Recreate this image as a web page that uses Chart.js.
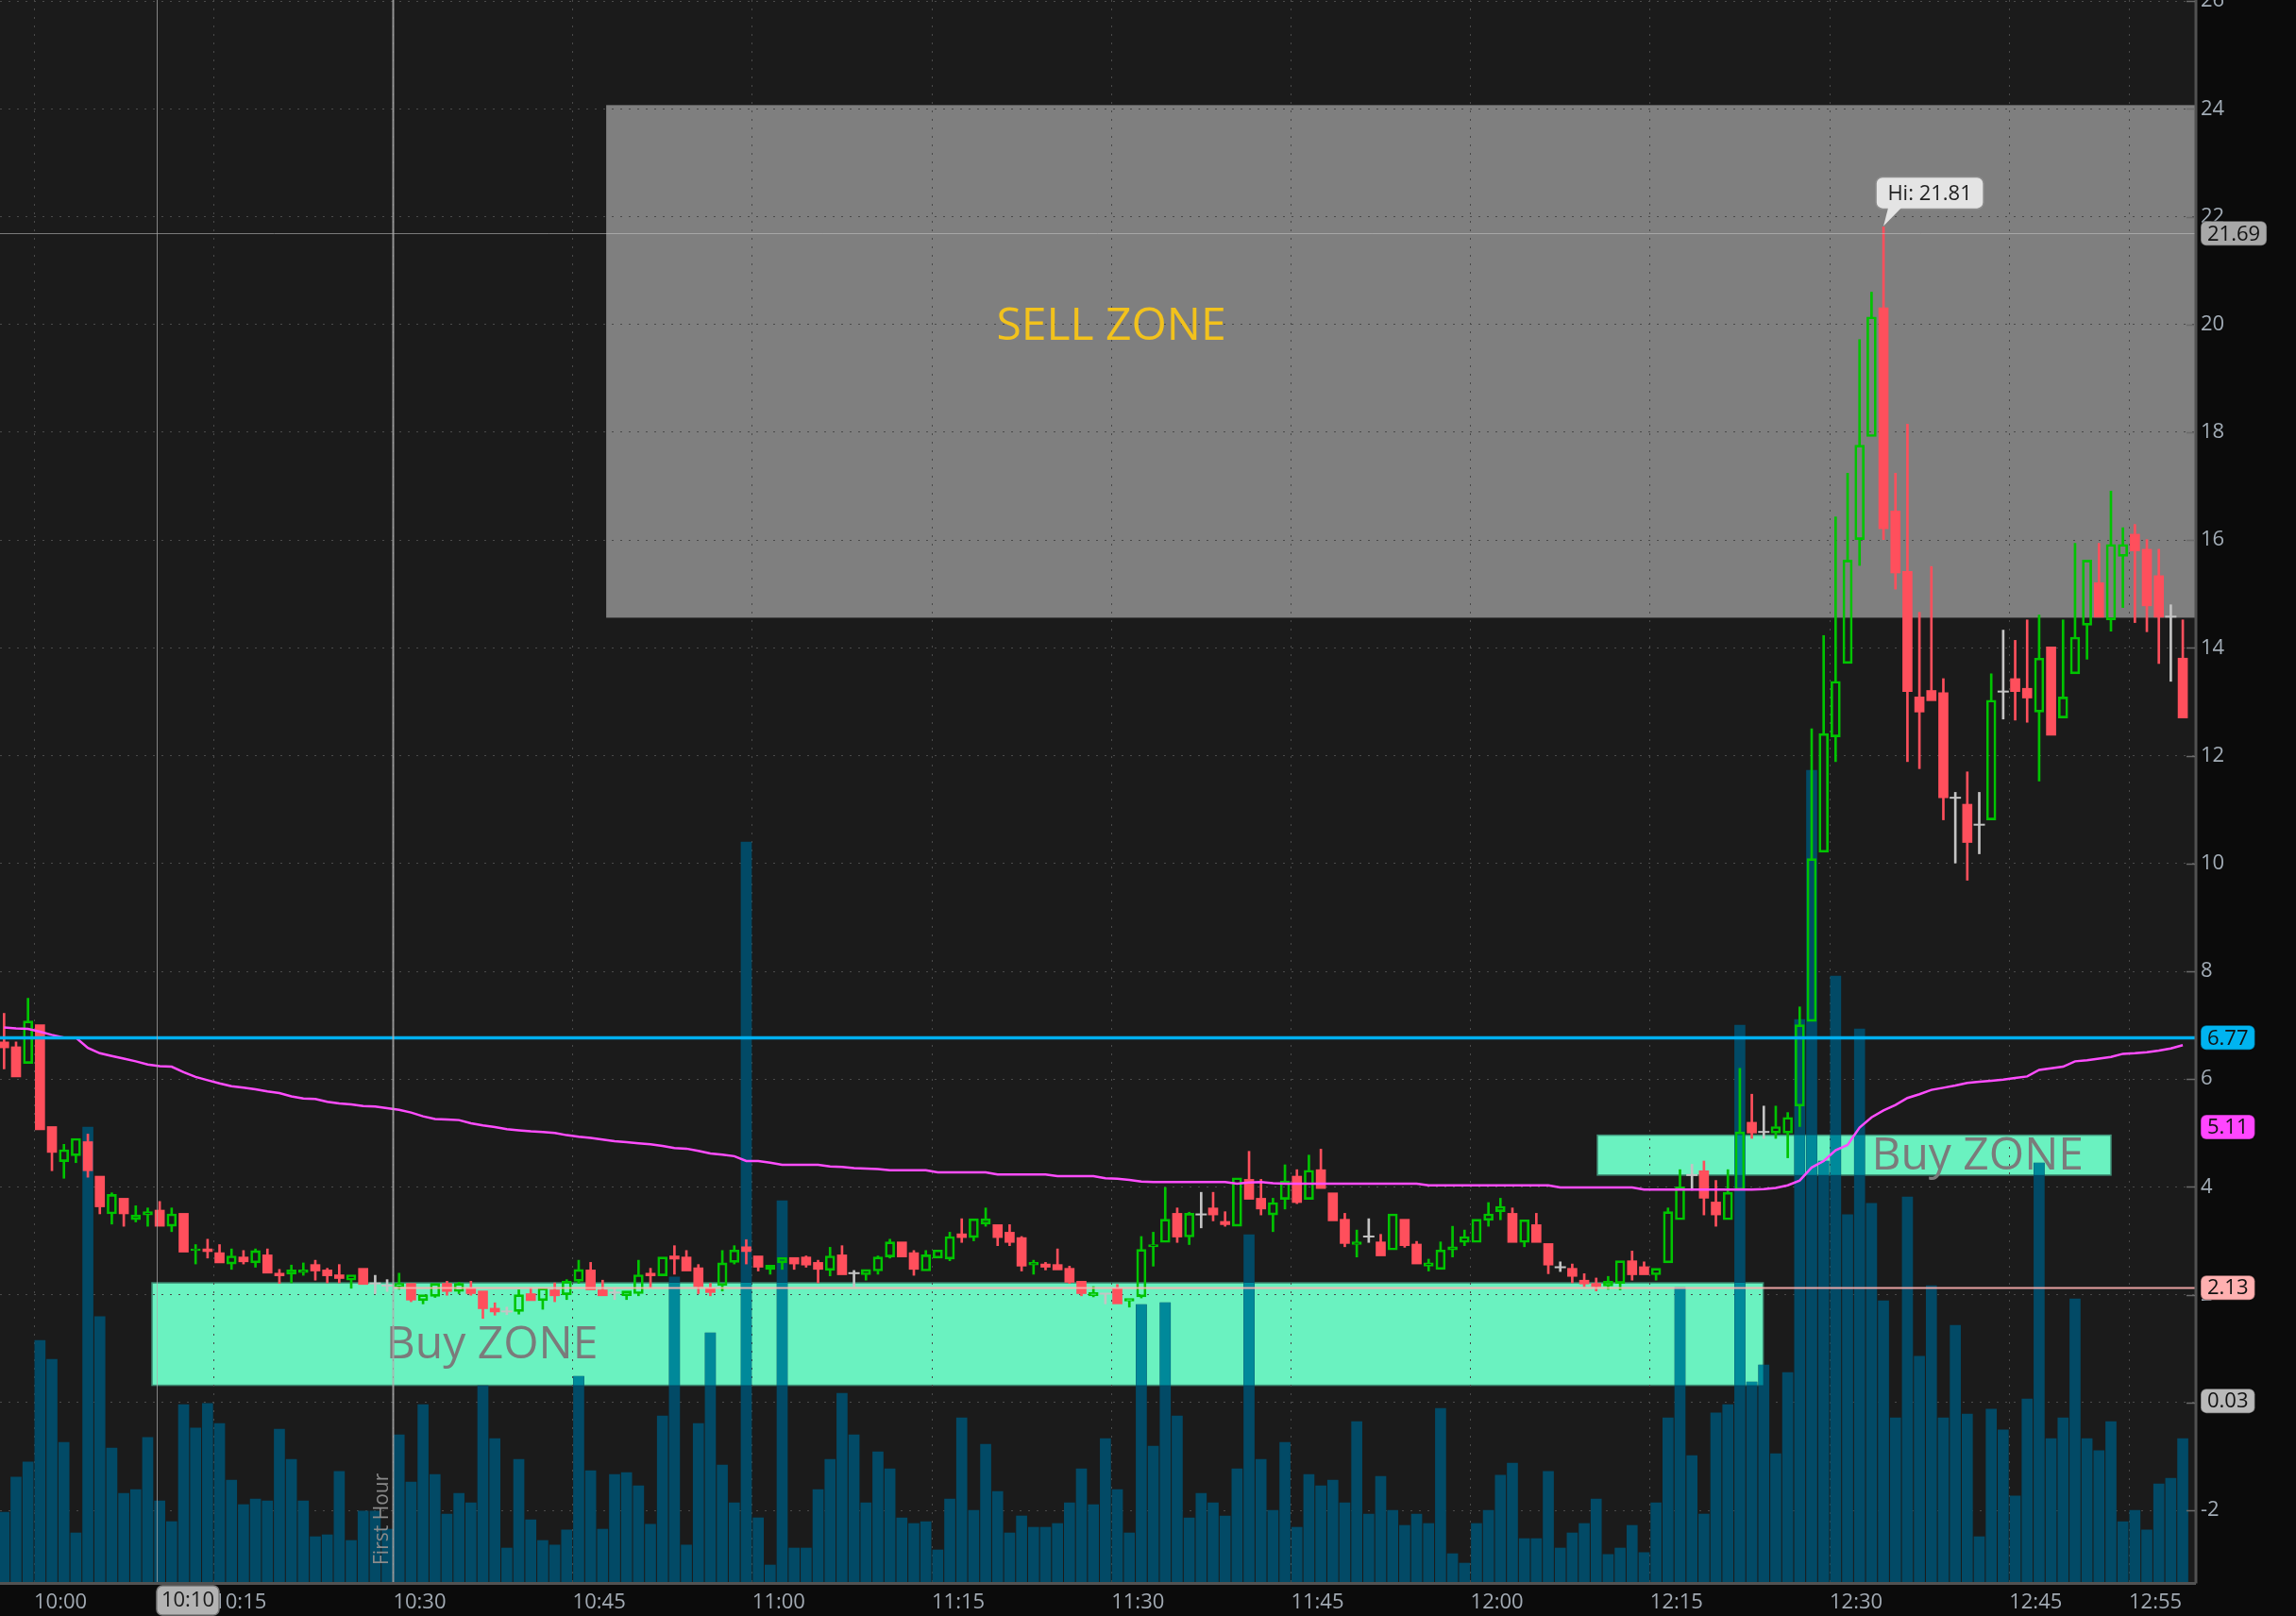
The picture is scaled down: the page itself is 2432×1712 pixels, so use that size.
<!DOCTYPE html>
<html>
<head>
<meta charset="utf-8">
<script src="https://cdn.jsdelivr.net/npm/chart.js@4.4.1/dist/chart.umd.min.js"></script>
<style>
  html, body { margin: 0; padding: 0; background: #0b0b0b; }
  #wrap { width: 2432px; height: 1712px; }
</style>
</head>
<body>
<div id="wrap"><canvas id="chart" width="2432" height="1712"></canvas></div>
<script>
// One bar per minute, minutes counted from 10:00 (first bar is 9:57)
const firstMinute = -3;

const open = [
  6.69, 6.60, 6.29, 7.01, 5.12, 4.47, 4.58, 4.84, 4.20, 3.50,
  3.79, 3.39, 3.48, 3.57, 3.27, 3.51, 2.82, 2.85, 2.78, 2.57,
  2.70, 2.59, 2.74, 2.40, 2.38, 2.41, 2.56, 2.46, 2.37, 2.27,
  2.49, 2.21, 2.17, 2.15, 2.21, 1.89, 1.97, 2.21, 2.06, 2.12,
  2.07, 1.75, 1.69, 1.69, 2.02, 1.89, 2.09, 2.00, 2.25, 2.46,
  2.09, 2.04, 1.98, 2.02, 2.40, 2.35, 2.72, 2.70, 2.50, 2.12,
  2.17, 2.60, 2.89, 2.72, 2.47, 2.59, 2.69, 2.70, 2.60, 2.45,
  2.74, 2.40, 2.37, 2.44, 2.70, 2.98, 2.78, 2.44, 2.68, 2.66,
  3.13, 3.06, 3.31, 3.30, 3.16, 3.06, 2.55, 2.57, 2.56, 2.49,
  2.25, 1.98, 2.02, 2.11, 1.88, 1.96, 2.89, 2.97, 3.51, 3.07,
  3.49, 3.61, 3.36, 3.27, 4.14, 3.79, 3.48, 3.77, 4.20, 3.77,
  4.32, 3.89, 3.40, 2.93, 3.08, 2.98, 2.83, 3.40, 2.94, 2.53,
  2.47, 2.83, 2.97, 2.97, 3.38, 3.54, 3.51, 2.97, 3.30, 2.95,
  2.51, 2.49, 2.27, 2.21, 2.16, 2.21, 2.63, 2.52, 2.37, 2.59,
  3.39, 4.22, 4.30, 3.72, 3.39, 3.94, 5.20, 5.02, 5.00, 5.00,
  5.50, 7.07, 10.21, 12.35, 13.71, 16.01, 17.92, 20.31, 16.54, 15.42,
  13.09, 13.21, 13.17, 11.22, 11.10, 10.72, 10.81, 13.19, 13.43, 13.25,
  12.81, 14.02, 12.70, 13.52, 14.42, 15.21, 14.52, 15.70, 16.11, 15.83,
  15.34, 14.58, 13.81
];
const high = [
  7.22, 6.69, 7.50, 7.01, 5.12, 4.79, 4.90, 4.98, 4.20, 3.89,
  3.79, 3.65, 3.61, 3.73, 3.61, 3.51, 2.93, 3.03, 2.93, 2.85,
  2.82, 2.85, 2.85, 2.47, 2.55, 2.59, 2.64, 2.49, 2.56, 2.37,
  2.49, 2.36, 2.28, 2.40, 2.21, 2.00, 2.21, 2.25, 2.23, 2.25,
  2.07, 1.85, 1.77, 2.09, 2.13, 2.12, 2.22, 2.28, 2.64, 2.60,
  2.27, 2.13, 2.07, 2.64, 2.49, 2.70, 2.91, 2.82, 2.56, 2.21,
  2.82, 2.91, 3.02, 2.72, 2.55, 2.69, 2.69, 2.72, 2.64, 2.88,
  2.91, 2.45, 2.47, 2.72, 3.03, 2.98, 2.82, 2.82, 2.83, 3.16,
  3.41, 3.41, 3.61, 3.30, 3.30, 3.08, 2.64, 2.60, 2.85, 2.53,
  2.25, 2.15, 2.02, 2.19, 1.93, 3.08, 3.16, 3.99, 3.61, 3.53,
  3.90, 3.90, 3.54, 4.17, 4.66, 4.14, 3.79, 4.41, 4.32, 4.59,
  4.70, 3.89, 3.51, 3.20, 3.41, 3.12, 3.50, 3.40, 2.99, 2.66,
  2.98, 3.27, 3.20, 3.40, 3.71, 3.79, 3.61, 3.39, 3.51, 2.95,
  2.61, 2.57, 2.39, 2.31, 2.34, 2.63, 2.81, 2.61, 2.49, 3.61,
  4.32, 4.42, 4.48, 4.12, 4.32, 6.20, 5.72, 5.50, 5.50, 5.38,
  7.34, 12.50, 14.23, 16.43, 17.24, 19.72, 20.60, 21.81, 17.24, 18.15,
  14.66, 15.51, 13.43, 11.32, 11.70, 11.32, 13.52, 14.33, 14.14, 14.52,
  14.61, 14.02, 14.52, 15.94, 15.63, 15.94, 16.91, 16.23, 16.29, 16.01,
  15.83, 14.80, 14.52
];
const low = [
  6.19, 6.04, 6.29, 5.06, 4.30, 4.16, 4.45, 4.18, 3.50, 3.31,
  3.27, 3.35, 3.27, 3.27, 3.17, 2.79, 2.57, 2.68, 2.59, 2.47,
  2.57, 2.51, 2.40, 2.21, 2.22, 2.36, 2.27, 2.22, 2.22, 2.12,
  2.19, 2.02, 2.06, 2.10, 1.87, 1.83, 1.95, 1.99, 2.02, 1.99,
  1.56, 1.62, 1.63, 1.64, 1.89, 1.73, 1.87, 1.91, 2.21, 2.09,
  1.98, 1.91, 1.91, 1.98, 2.13, 2.35, 2.38, 2.44, 2.02, 1.98,
  2.07, 2.57, 2.57, 2.44, 2.38, 2.47, 2.47, 2.51, 2.22, 2.35,
  2.37, 2.15, 2.27, 2.38, 2.68, 2.70, 2.36, 2.44, 2.68, 2.63,
  2.97, 3.00, 3.27, 2.91, 2.91, 2.44, 2.38, 2.46, 2.46, 2.21,
  1.98, 1.96, 1.83, 1.83, 1.77, 1.94, 2.53, 2.97, 2.97, 2.93,
  3.24, 3.37, 3.27, 3.27, 3.77, 3.48, 3.17, 3.59, 3.69, 3.77,
  3.97, 3.37, 2.89, 2.70, 2.97, 2.72, 2.83, 2.88, 2.57, 2.44,
  2.47, 2.70, 2.91, 2.97, 3.27, 3.39, 2.97, 2.89, 2.97, 2.39,
  2.43, 2.22, 2.15, 2.07, 2.10, 2.09, 2.27, 2.37, 2.27, 2.59,
  3.39, 3.94, 3.48, 3.27, 3.39, 3.94, 4.90, 4.90, 4.90, 4.54,
  5.12, 7.07, 10.21, 11.89, 13.71, 15.53, 17.92, 16.01, 15.09, 11.89,
  11.76, 13.02, 10.81, 10.01, 9.69, 10.18, 10.81, 12.68, 12.66, 12.62,
  11.53, 12.38, 12.70, 13.52, 13.79, 14.57, 14.31, 14.75, 14.47, 14.30,
  13.71, 13.38, 12.70
];
const close = [
  6.58, 6.04, 7.08, 5.06, 4.64, 4.69, 4.90, 4.30, 3.63, 3.86,
  3.50, 3.48, 3.54, 3.27, 3.50, 2.79, 2.85, 2.80, 2.59, 2.72,
  2.61, 2.82, 2.40, 2.35, 2.46, 2.46, 2.44, 2.35, 2.30, 2.37,
  2.19, 2.21, 2.17, 2.21, 1.90, 2.00, 2.21, 2.06, 2.21, 2.02,
  1.74, 1.68, 1.69, 2.00, 1.89, 2.12, 1.98, 2.25, 2.47, 2.09,
  1.98, 2.04, 2.07, 2.37, 2.35, 2.70, 2.66, 2.44, 2.15, 2.04,
  2.59, 2.83, 2.80, 2.51, 2.55, 2.69, 2.57, 2.55, 2.47, 2.72,
  2.37, 2.40, 2.47, 2.70, 2.98, 2.70, 2.47, 2.74, 2.83, 3.08,
  3.06, 3.41, 3.41, 3.06, 2.97, 2.53, 2.60, 2.51, 2.46, 2.23,
  2.02, 2.04, 2.02, 1.83, 1.93, 2.84, 2.93, 3.40, 3.07, 3.51,
  3.49, 3.48, 3.30, 4.17, 3.77, 3.59, 3.71, 4.11, 3.71, 4.31,
  3.97, 3.37, 2.95, 2.98, 3.08, 2.72, 3.50, 2.91, 2.57, 2.59,
  2.83, 2.89, 3.08, 3.40, 3.50, 3.64, 2.97, 3.39, 2.97, 2.55,
  2.51, 2.34, 2.20, 2.15, 2.25, 2.63, 2.37, 2.37, 2.49, 3.54,
  4.00, 4.22, 3.79, 3.48, 3.90, 5.02, 5.00, 5.02, 5.12, 5.29,
  7.01, 10.09, 12.41, 13.38, 15.63, 17.76, 20.14, 16.21, 15.39, 13.19,
  12.81, 13.02, 11.22, 11.22, 10.39, 10.72, 13.03, 13.19, 13.19, 13.07,
  13.81, 12.38, 13.09, 14.20, 15.63, 14.57, 15.92, 15.92, 15.80, 14.78,
  14.57, 14.58, 12.70
];
// thousands of shares
const volume = [
  18.5, 27.8, 31.8, 64, 59, 37, 13, 120.5, 70.3, 35.5,
  23.5, 24.5, 38.3, 21.5, 16, 47, 40.8, 47.3, 42, 27,
  20.5, 22, 21.5, 40.5, 32.5, 21.5, 12, 12.5, 29.3, 11,
  18.8, 18.8, 14, 39, 26.5, 47, 28.5, 18, 23.5, 21,
  52, 38, 9, 32.5, 16.5, 11, 9.8, 13.8, 54.5, 29.5,
  14, 28.5, 29, 25.5, 15.3, 44, 80.8, 9.8, 42, 66,
  31, 21, 196, 17, 4.5, 101, 9, 9, 24.5, 32.5,
  50, 39, 21, 34.5, 30, 17, 15.5, 16, 8.5, 22,
  43.5, 19, 36.5, 24, 13, 17.5, 14.5, 14.5, 15.5, 21,
  30, 20.5, 38, 24.5, 13, 73.5, 36, 74, 44, 17,
  23.5, 21, 17.5, 30, 92, 32.5, 19, 37, 14.5, 28.5,
  25.5, 27, 21, 42.5, 18, 28, 19, 15, 18, 15.5,
  46, 7.5, 5, 15.5, 19, 28.3, 31.5, 11.5, 11.5, 29.3,
  9, 13, 15.5, 22, 7.3, 9, 15, 7.8, 21, 43.5,
  78, 33.5, 18, 44.8, 47, 147.5, 53, 57.5, 34, 55.5,
  149, 215, 111.5, 160.5, 97.3, 146.5, 100.3, 74.5, 43.5, 102,
  59.8, 78.5, 43.5, 68, 44.5, 12, 45.8, 40.3, 22.8, 48.5,
  111, 38, 43.5, 75, 38, 34.8, 42.5, 16, 19, 13.8,
  26, 27.5, 38
];
const vwap = [
  6.96, 6.94, 6.93, 6.88, 6.82, 6.77, 6.77, 6.58, 6.48, 6.43,
  6.38, 6.33, 6.27, 6.24, 6.23, 6.13, 6.04, 5.98, 5.92, 5.87,
  5.84, 5.81, 5.77, 5.74, 5.68, 5.64, 5.63, 5.58, 5.55, 5.53,
  5.50, 5.49, 5.46, 5.43, 5.38, 5.31, 5.26, 5.25, 5.24, 5.18,
  5.14, 5.11, 5.07, 5.05, 5.03, 5.02, 5.00, 4.96, 4.93, 4.91,
  4.88, 4.85, 4.83, 4.81, 4.79, 4.76, 4.72, 4.71, 4.67, 4.62,
  4.60, 4.57, 4.48, 4.48, 4.45, 4.41, 4.41, 4.41, 4.41, 4.38,
  4.37, 4.35, 4.34, 4.33, 4.31, 4.31, 4.31, 4.31, 4.27, 4.27,
  4.27, 4.27, 4.27, 4.23, 4.23, 4.23, 4.23, 4.23, 4.20, 4.20,
  4.20, 4.20, 4.16, 4.15, 4.13, 4.10, 4.09, 4.09, 4.09, 4.09,
  4.09, 4.09, 4.09, 4.06, 4.08, 4.09, 4.07, 4.06, 4.06, 4.06,
  4.06, 4.06, 4.06, 4.06, 4.06, 4.06, 4.06, 4.06, 4.06, 4.03,
  4.03, 4.03, 4.03, 4.03, 4.03, 4.03, 4.03, 4.03, 4.03, 4.03,
  3.99, 3.99, 3.99, 3.99, 3.99, 3.99, 3.99, 3.95, 3.95, 3.95,
  3.95, 3.95, 3.95, 3.95, 3.95, 3.95, 3.95, 3.96, 3.98, 4.03,
  4.12, 4.36, 4.48, 4.68, 4.78, 5.10, 5.29, 5.42, 5.52, 5.65,
  5.72, 5.80, 5.84, 5.88, 5.93, 5.95, 5.97, 5.99, 6.02, 6.05,
  6.17, 6.20, 6.23, 6.33, 6.35, 6.38, 6.41, 6.47, 6.48, 6.50,
  6.53, 6.57, 6.63
];

const xTicks = [0, 15, 30, 45, 60, 75, 90, 105, 120, 135, 150, 165, 175];
const yTicks = [-2, 0, 2, 4, 6, 8, 10, 12, 14, 16, 18, 20, 22, 24, 26];

// price bubbles on the right axis
const levelValues = [21.69, 6.77, 5.11, 2.13, 0.03];
const levelColors = ['#a8a8a8', '#00b4f0', '#ff46ff', '#ffb0b0', '#b9b9b9'];

// drawn zones (minutes from 10:00, prices)
const zoneNames = ['SELL ZONE', 'Buy ZONE', 'Buy ZONE'];
const zoneFrom = [47.8, 9.86, 130.6];
const zoneTo = [180.6, 144.45, 173.5];
const zoneLow = [14.56, 0.32, 4.22];
const zoneHigh = [24.07, 2.22, 4.96];
const zoneTextAt = [[80.4, 19.72], [29.4, 0.82], [153.5, 4.33]];

const markerTime = 10.25;   // 10:10 cursor
const firstHourEnd = 30;    // 10:30
const hiValue = 21.81;
const hiMinute = 154;

const UP = '#00c400', DOWN = '#ff4f5c', FLAT = '#c4c4c4';
const VOL = '#024a66', VOL_ON_ZONE = '#00899a';

const xs = open.map((_, i) => firstMinute + i + 0.5);
const dir = open.map((o, i) => close[i] > o ? 1 : close[i] < o ? -1 : 0);
const colorOf = d => d > 0 ? UP : d < 0 ? DOWN : FLAT;

// wicks stop at the body so hollow candles stay hollow
const wickData = [], wickColors = [];
xs.forEach((x, i) => {
  const top = Math.max(open[i], close[i]), bot = Math.min(open[i], close[i]);
  if (dir[i] === 0) {
    wickData.push({ x, y: [low[i], high[i]] });
    wickColors.push(FLAT);
    return;
  }
  if (high[i] > top) { wickData.push({ x, y: [top, high[i]] }); wickColors.push(colorOf(dir[i])); }
  if (low[i] < bot) { wickData.push({ x, y: [low[i], bot] }); wickColors.push(colorOf(dir[i])); }
});

const bodyIdx = xs.map((_, i) => i).filter(i => dir[i] !== 0);
const dojiIdx = xs.map((_, i) => i).filter(i => dir[i] === 0);

const fmtTime = v => {
  const h = 10 + Math.floor(v / 60), m = v % 60;
  return h + ':' + String(m).padStart(2, '0');
};

const FONT = '"Open Sans", "DejaVu Sans", sans-serif';

const scenePlugin = {
  id: 'scene',
  beforeDraw(chart) {
    const { ctx, chartArea: a, scales: { x, y } } = chart;
    ctx.save();
    ctx.fillStyle = '#1b1b1b';
    ctx.fillRect(a.left, a.top, a.right - a.left, a.bottom - a.top);
    ctx.beginPath();
    ctx.rect(a.left, a.top, a.right - a.left, a.bottom - a.top);
    ctx.clip();
    zoneNames.forEach((name, i) => {
      const x0 = x.getPixelForValue(zoneFrom[i]), x1 = x.getPixelForValue(zoneTo[i]);
      const y0 = y.getPixelForValue(zoneHigh[i]), y1 = y.getPixelForValue(zoneLow[i]);
      ctx.fillStyle = i === 0 ? '#7f7f7f' : '#6af2c0';
      ctx.fillRect(x0, y0, x1 - x0, y1 - y0);
      if (i > 0) {
        ctx.strokeStyle = '#3f8f76';
        ctx.lineWidth = 1.5;
        ctx.strokeRect(x0, y0, x1 - x0, y1 - y0);
      }
    });
    ctx.restore();
  },
  afterDatasetDraw(chart, args) {
    if (args.index !== 4) return;
    const { ctx, chartArea: a, scales: { x, y } } = chart;
    // volume bars look lighter where they sit on the buy zones
    ctx.save();
    ctx.beginPath();
    [1, 2].forEach(i => {
      const x0 = x.getPixelForValue(zoneFrom[i]), x1 = x.getPixelForValue(zoneTo[i]);
      const y0 = y.getPixelForValue(zoneHigh[i]), y1 = y.getPixelForValue(zoneLow[i]);
      ctx.rect(x0, y0, x1 - x0, y1 - y0);
    });
    ctx.clip();
    ctx.fillStyle = VOL_ON_ZONE;
    args.meta.data.forEach(el => {
      const p = el.getProps(['x', 'y', 'base', 'width'], true);
      ctx.fillRect(p.x - p.width / 2, p.y, p.width, p.base - p.y);
    });
    ctx.restore();

    ctx.save();
    ctx.beginPath();
    ctx.rect(a.left, a.top, a.right - a.left, a.bottom - a.top);
    ctx.clip();
    ctx.font = '48px ' + FONT;
    ctx.textAlign = 'left';
    ctx.textBaseline = 'alphabetic';
    zoneNames.forEach((name, i) => {
      ctx.fillStyle = i === 0 ? '#f2c21c' : '#7b7b7b';
      ctx.fillText(name, x.getPixelForValue(zoneTextAt[i][0]), y.getPixelForValue(zoneTextAt[i][1]));
    });
    ctx.restore();
  },
  afterDatasetsDraw(chart) {
    const { ctx, chartArea: a, scales: { x, y } } = chart;
    ctx.save();
    ctx.beginPath();
    ctx.rect(a.left, a.top, a.right - a.left, a.bottom - a.top);
    ctx.clip();
    const hline = (v, from, color, w) => {
      const py = Math.round(y.getPixelForValue(v)) + 0.5;
      ctx.strokeStyle = color; ctx.lineWidth = w;
      ctx.beginPath(); ctx.moveTo(from, py); ctx.lineTo(a.right, py); ctx.stroke();
    };
    hline(levelValues[0], a.left, 'rgba(200,200,200,0.55)', 1);
    hline(levelValues[1], a.left, '#00b0f0', 3.5);
    hline(levelValues[3], x.getPixelForValue(firstHourEnd), 'rgba(255,176,176,0.9)', 2);

    const vline = (v, color, w) => {
      const px = Math.round(x.getPixelForValue(v)) + 0.5;
      ctx.strokeStyle = color; ctx.lineWidth = w;
      ctx.beginPath(); ctx.moveTo(px, a.top); ctx.lineTo(px, a.bottom); ctx.stroke();
    };
    vline(markerTime, 'rgba(170,170,170,0.75)', 1);
    vline(firstHourEnd, 'rgba(175,175,175,0.8)', 2);

    // "First Hour" label along the line
    ctx.translate(x.getPixelForValue(firstHourEnd) - 5, a.bottom - 18);
    ctx.rotate(-Math.PI / 2);
    ctx.font = '21px ' + FONT;
    ctx.fillStyle = '#8a8a8a';
    ctx.textAlign = 'left';
    ctx.textBaseline = 'alphabetic';
    ctx.fillText('First Hour', 0, 0);
    ctx.restore();
  },
  afterDraw(chart) {
    const { ctx, chartArea: a, scales: { x, y } } = chart;
    ctx.save();
    // axis lines
    ctx.strokeStyle = '#525252';
    ctx.lineWidth = 3;
    ctx.beginPath();
    ctx.moveTo(a.right + 1, 0); ctx.lineTo(a.right + 1, a.bottom + 1.5);
    ctx.moveTo(0, a.bottom + 1.5); ctx.lineTo(a.right + 1, a.bottom + 1.5);
    ctx.stroke();
    // small inside tick marks on the price axis
    ctx.strokeStyle = '#6a6a6a';
    ctx.lineWidth = 1.5;
    yTicks.forEach(v => {
      const py = Math.round(y.getPixelForValue(v)) + 0.5;
      ctx.beginPath(); ctx.moveTo(a.right - 9, py); ctx.lineTo(a.right, py); ctx.stroke();
    });

    // price bubbles
    ctx.font = '22px ' + FONT;
    ctx.textBaseline = 'middle';
    ctx.textAlign = 'left';
    levelValues.forEach((v, i) => {
      const txt = v.toFixed(2);
      const py = y.getPixelForValue(v);
      const w = ctx.measureText(txt).width + 14;
      ctx.beginPath();
      ctx.roundRect(a.right + 6, py - 13, w, 26, 6);
      ctx.fillStyle = levelColors[i];
      ctx.fill();
      ctx.strokeStyle = 'rgba(0,0,0,0.35)';
      ctx.lineWidth = 1.5;
      ctx.stroke();
      ctx.fillStyle = '#111';
      ctx.fillText(txt, a.right + 13, py + 1);
    });

    // time cursor bubble on the time axis
    const mx = x.getPixelForValue(markerTime);
    ctx.beginPath();
    ctx.roundRect(mx, a.bottom + 4, 66, 31, 6);
    ctx.fillStyle = '#b3b3b3';
    ctx.fill();
    ctx.strokeStyle = '#7a7a7a';
    ctx.lineWidth = 1.5;
    ctx.stroke();
    ctx.fillStyle = '#1a1a1a';
    ctx.textAlign = 'center';
    ctx.fillText(fmtTime(10), mx + 33, a.bottom + 20);

    // high of day callout
    const hx = x.getPixelForValue(hiMinute + 0.5), hy = y.getPixelForValue(hiValue);
    ctx.beginPath();
    ctx.roundRect(hx - 8, hy - 53, 114, 34, 7);
    ctx.fillStyle = '#e4e4e4';
    ctx.fill();
    ctx.strokeStyle = '#8c8c8c';
    ctx.lineWidth = 1.5;
    ctx.stroke();
    ctx.beginPath();
    ctx.moveTo(hx + 5, hy - 20.5);
    ctx.lineTo(hx + 19, hy - 20.5);
    ctx.lineTo(hx, hy - 1);
    ctx.closePath();
    ctx.fillStyle = '#e4e4e4';
    ctx.fill();
    ctx.fillStyle = '#222';
    ctx.textAlign = 'center';
    ctx.fillText('Hi: ' + hiValue.toFixed(2), hx + 49, hy - 35);
    ctx.restore();
  }
};

new Chart(document.getElementById('chart'), {
  type: 'bar',
  data: {
    datasets: [
      {
        type: 'line',
        data: xs.map((x, i) => ({ x, y: vwap[i] })),
        borderColor: '#ff4dff',
        borderWidth: 2.5,
        pointRadius: 0,
        tension: 0,
        order: 1
      },
      {
        type: 'scatter',
        data: dojiIdx.map(i => ({ x: xs[i], y: close[i] })),
        showLine: false,
        pointStyle: 'line',
        pointRadius: 6,
        pointBorderWidth: 2,
        borderColor: FLAT,
        pointBorderColor: FLAT,
        order: 2
      },
      {
        data: bodyIdx.map(i => ({ x: xs[i], y: [open[i], close[i]] })),
        backgroundColor: bodyIdx.map(i => dir[i] > 0 ? 'rgba(0,0,0,0)' : DOWN),
        borderColor: bodyIdx.map(i => colorOf(dir[i])),
        borderWidth: bodyIdx.map(i => dir[i] > 0 ? 2 : 0),
        borderSkipped: false,
        barThickness: 10,
        grouped: false,
        order: 3
      },
      {
        data: wickData,
        backgroundColor: wickColors,
        barThickness: 2,
        grouped: false,
        order: 4
      },
      {
        data: xs.map((x, i) => ({ x, y: volume[i] })),
        yAxisID: 'yv',
        backgroundColor: VOL,
        barThickness: 11,
        grouped: false,
        order: 10
      }
    ]
  },
  options: {
    responsive: false,
    devicePixelRatio: 1,
    animation: false,
    layout: { padding: 0, autoPadding: false },
    plugins: { legend: { display: false }, tooltip: { enabled: false } },
    scales: {
      x: {
        type: 'linear',
        min: -2.84,
        max: 180.52,
        offset: false,
        grid: { color: '#4a4a4a', lineWidth: 1, drawTicks: false, offset: false },
        border: { display: false, dash: [2, 7] },
        ticks: {
          align: 'start',
          color: '#a2aab3',
          font: { family: FONT, size: 22 },
          padding: 9,
          maxRotation: 0,
          autoSkip: false,
          callback: v => fmtTime(v)
        },
        afterBuildTicks: s => { s.ticks = xTicks.map(v => ({ value: v })); },
        afterFit: s => { s.height = 36; s.paddingLeft = 0; s.paddingRight = 0; }
      },
      y: {
        type: 'linear',
        position: 'right',
        min: -3.33,
        max: 26.02,
        grid: { color: '#4a4a4a', lineWidth: 1, drawTicks: false },
        border: { display: false, dash: [2, 7] },
        ticks: {
          color: '#a2acb6',
          font: { family: FONT, size: 22 },
          padding: 6,
          callback: v => String(v)
        },
        afterBuildTicks: s => { s.ticks = yTicks.map(v => ({ value: v })); },
        afterFit: s => { s.width = 107; s.paddingTop = 0; s.paddingBottom = 0; }
      },
      yv: {
        display: false,
        min: 0,
        max: 419
      }
    }
  },
  plugins: [scenePlugin]
});
</script>
</body>
</html>
